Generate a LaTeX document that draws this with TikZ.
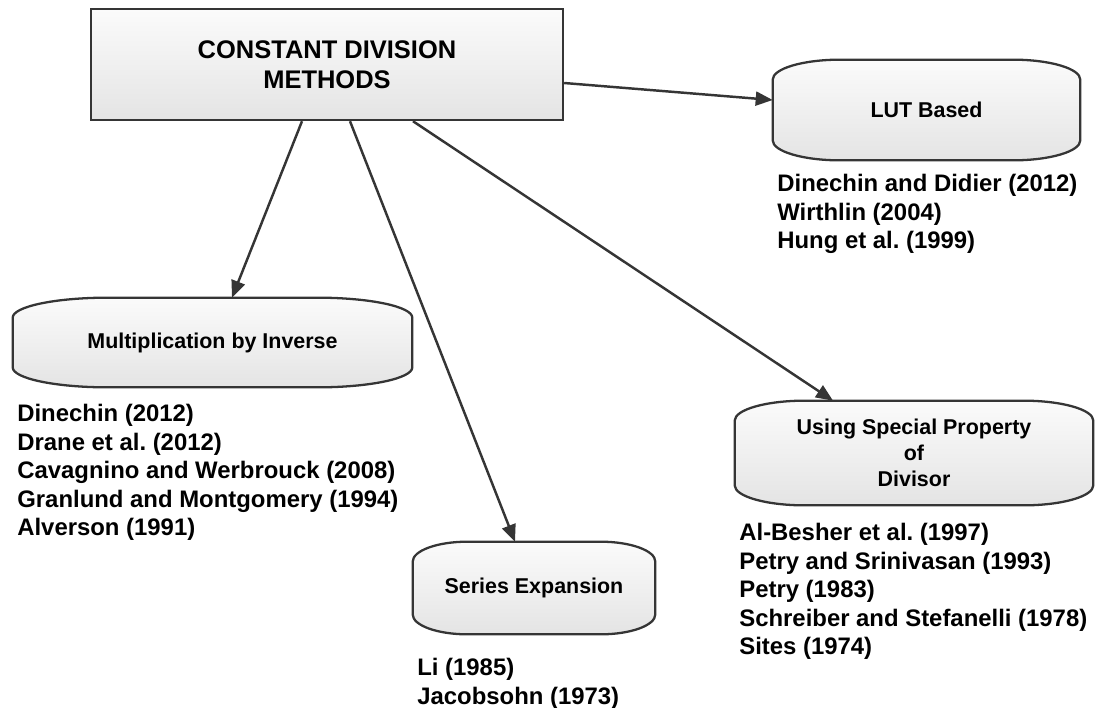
\documentclass[tikz,border=0pt]{standalone}
\usepackage{fontspec}
\setmainfont{Liberation Sans}
\frenchspacing
\usetikzlibrary{arrows.meta,backgrounds}
\definecolor{edgegray}{HTML}{353535}
\definecolor{filltop}{HTML}{FBFBFB}
\definecolor{fillbot}{HTML}{E4E4E4}
\tikzset{
  headnode/.style={draw=edgegray, line width=1.4pt, top color=filltop, bottom color=fillbot,
    minimum width=9.44cm, minimum height=2.22cm, align=center, inner sep=0mm,
    font=\bfseries\fontsize{14.5}{17}\selectfont},
  methnode/.style={align=center, inner sep=0mm, font=\bfseries\fontsize{12.2}{14.7}\selectfont},
  refnode/.style={anchor=north west, align=left, inner sep=0mm, font=\bfseries\fontsize{13.6}{16.2}\selectfont},
  softline/.style={draw=edgegray, line width=1.3pt, top color=filltop, bottom color=fillbot},
  link/.style={draw=edgegray, line width=1.4pt, -{Triangle[length=3.4mm,width=2.8mm]}},
}
% outline with wide elliptic corners round a node: #1 node, #2 corner width
\newcommand\softbox[2]{%
  \path[softline] ([yshift=-0.4cm]#1.north west)
    arc[start angle=180, end angle=90, x radius=#2, y radius=0.4cm]
    -- ([xshift=-#2]#1.north east)
    arc[start angle=90, end angle=0, x radius=#2, y radius=0.4cm]
    -- ([yshift=0.4cm]#1.south east)
    arc[start angle=0, end angle=-90, x radius=#2, y radius=0.4cm]
    -- ([xshift=#2]#1.south west)
    arc[start angle=270, end angle=180, x radius=#2, y radius=0.4cm]
    -- cycle;}

\begin{document}
\begin{tikzpicture}[x=0.02cm, y=-0.02cm]
\useasboundingbox (0,0) rectangle (1095,707);

%root
\node[headnode] (cdm) at (327,64.5) {CONSTANT DIVISION\\METHODS};

%methods
\node[methnode, minimum width=6.14cm, minimum height=2cm]    (lut)     at (926.5,110) {LUT Based};
\node[methnode, minimum width=7.98cm, minimum height=1.78cm] (mult)    at (212.5,342.5) {Multiplication by Inverse};
\node[methnode, minimum width=4.84cm, minimum height=1.84cm] (series)  at (534,588) {Series Expansion};
\node[methnode, minimum width=7.16cm, minimum height=2.08cm] (special) at (914,453) {Using Special Property\\of\\Divisor};

\begin{scope}[on background layer]
\foreach \name/\cw in {lut/1.35cm, mult/1.9cm, series/1.1cm, special/1.4cm}
  \softbox{\name}{\cw};
\end{scope}

%references
\node[refnode] (lutrefs)     at (777,174) {Dinechin and Didier (2012)\\Wirthlin (2004)\\Hung et al. (1999)};
\node[refnode] (multrefs)    at (17,404)  {Dinechin (2012)\\Drane et al. (2012)\\Cavagnino and Werbrouck (2008)\\Granlund and Montgomery (1994)\\Alverson (1991)};
\node[refnode] (seriesrefs)  at (417,658) {Li (1985)\\Jacobsohn (1973)};
\node[refnode] (specialrefs) at (739,523) {Al-Besher et al. (1997)\\Petry and Srinivasan (1993)\\Petry (1983)\\Schreiber and Stefanelli (1978)\\Sites (1974)};

%arrows
\draw[link] ([yshift=-0.37cm]cdm.east)   -- ([yshift=0.2cm]lut.west);
\draw[link] ([xshift=-0.5cm]cdm.south)   -- ([xshift=0.39cm]mult.north);
\draw[link] ([xshift=0.46cm]cdm.south)   -- ([xshift=-0.38cm]series.north);
\draw[link] ([xshift=1.72cm]cdm.south)   -- ([xshift=-1.62cm]special.north);
\end{tikzpicture}
\end{document}
